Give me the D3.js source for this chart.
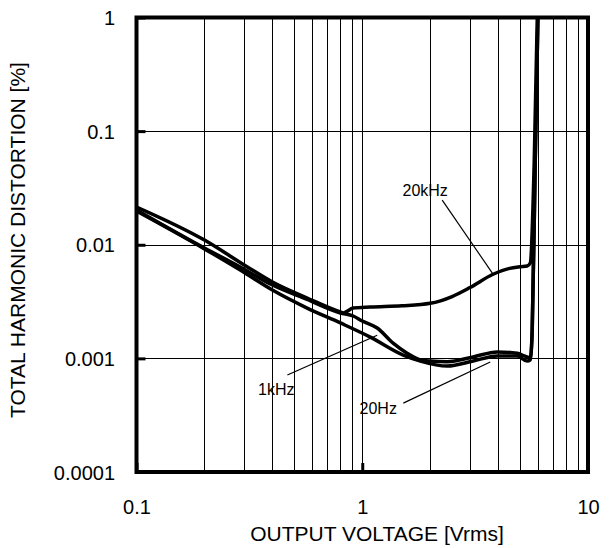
<!DOCTYPE html>
<html>
<head>
<meta charset="utf-8">
<script src="https://cdn.jsdelivr.net/npm/d3@7"></script>
<style>
  body { margin: 0; background: #fff; }
  text { font-family: "Liberation Sans", Arial, sans-serif; fill: #000; }
</style>
</head>
<body>
<div id="chart"></div>
<script>

// output voltage [Vrms] and THD [%]
var volt20k = [0.1, 0.2, 0.31, 0.4, 0.57, 0.8, 0.824, 0.912, 1.085, 1.5, 2.0, 2.5, 3.0, 3.8, 4.5, 5.01, 5.38, 5.55, 5.78, 5.96];
var thd20k  = [0.0215, 0.011, 0.00637, 0.0047, 0.0034, 0.00256, 0.00251, 0.00277, 0.00283, 0.0029, 0.00305, 0.0035, 0.0042, 0.0055, 0.0062, 0.0064, 0.0065, 0.0069, 0.0557, 1];

var volt20 = [0.1, 0.2, 0.288, 0.4, 0.57, 0.8, 0.912, 1.0, 1.165, 1.37, 1.58, 1.81, 2.0, 2.38, 3.1, 3.96, 4.86, 5.22, 5.55, 5.66, 5.84, 6.0];
var thd20  = [0.0202, 0.00935, 0.00637, 0.00442, 0.0033, 0.00251, 0.00236, 0.00213, 0.00185, 0.00136, 0.00111, 0.00097, 0.000947, 0.000935, 0.00103, 0.00114, 0.00111, 0.00105, 0.00101, 0.00177, 0.0557, 1];

var volt1k = [0.1, 0.2, 0.288, 0.4, 0.57, 0.8, 1.085, 1.52, 1.81, 2.38, 3.1, 3.96, 4.86, 5.38, 5.55, 5.66, 5.84, 6.0];
var thd1k  = [0.0198, 0.0092, 0.00599, 0.00399, 0.00277, 0.00205, 0.00154, 0.00107, 0.000947, 0.000855, 0.000947, 0.00105, 0.00105, 0.000947, 0.00097, 0.00177, 0.0557, 1];

var xTicks = [0.1, 1, 10];
var yTicks = [0.0001, 0.001, 0.01, 0.1, 1];

// label text, label anchor, leader start, leader end (data units)
var labelNames = ["20kHz", "1kHz", "20Hz"];
var labelAt    = [[1.90, 0.0303], [0.416, 0.000537], [1.177, 0.000365]];
var leaderFrom = [[2.26, 0.0247], [0.466, 0.000713], [1.52, 0.000404]];
var leaderTo   = [[3.77, 0.00563], [1.165, 0.0016], [3.69, 0.000928]];

var width = 609, height = 548;
var plotL = 136.5, plotR = 588, plotT = 17.5, plotB = 472;

var svg = d3.select("#chart").append("svg")
    .attr("width", width)
    .attr("height", height);

var x = d3.scaleLog().domain([0.1, 10]).range([plotL, plotR]);
var y = d3.scaleLog().domain([0.0001, 1]).range([plotB, plotT]);

// minor vertical grid, 2..9 in every decade plus 1
var vGrid = [];
[0.1, 1].forEach(function (d) {
    for (var k = 1; k < 10; k++) vGrid.push(d * k);
});
vGrid = vGrid.filter(function (v) { return v > 0.1; });

svg.append("g").selectAll("line")
    .data(vGrid)
    .enter().append("line")
    .attr("x1", function (d) { return Math.round(x(d)) + 0.5; })
    .attr("x2", function (d) { return Math.round(x(d)) + 0.5; })
    .attr("y1", plotT)
    .attr("y2", plotB)
    .attr("stroke", "#000")
    .attr("stroke-width", 1);

svg.append("g").selectAll("line")
    .data([0.001, 0.01, 0.1])
    .enter().append("line")
    .attr("x1", plotL)
    .attr("x2", plotR)
    .attr("y1", function (d) { return Math.round(y(d)) + 0.5; })
    .attr("y2", function (d) { return Math.round(y(d)) + 0.5; })
    .attr("stroke", "#000")
    .attr("stroke-width", 1);

// axes: short thick ticks pointing inside
var xAxis = d3.axisBottom(x).tickValues(xTicks).tickSize(-9).tickFormat(d3.format("~g"));
var yAxis = d3.axisLeft(y).tickValues(yTicks).tickSize(-9).tickFormat(d3.format("~g"));

var gx = svg.append("g").attr("transform", "translate(0," + plotB + ")").call(xAxis);
var gy = svg.append("g").attr("transform", "translate(" + plotL + ",0)").call(yAxis);

[gx, gy].forEach(function (g) {
    g.select(".domain").remove();
    g.selectAll(".tick line").attr("stroke", "#000").attr("stroke-width", 3);
    g.selectAll(".tick text")
        .style("font-family", "Liberation Sans, Arial, sans-serif")
        .style("font-size", "20px")
        .attr("fill", "#000");
});
gx.selectAll(".tick text").attr("y", 0).attr("dy", "42px");
gy.selectAll(".tick text").attr("x", -21.5).attr("dy", "0.35em");

// curves
var line = d3.line()
    .x(function (d) { return x(d[0]); })
    .y(function (d) { return y(d[1]); })
    .curve(d3.curveMonotoneX);

svg.append("clipPath").attr("id", "plotClip")
    .append("rect")
    .attr("x", plotL).attr("y", plotT)
    .attr("width", plotR - plotL).attr("height", plotB - plotT);

var series = [[volt20k, thd20k], [volt20, thd20], [volt1k, thd1k]];
svg.append("g").attr("clip-path", "url(#plotClip)")
    .selectAll("path")
    .data(series)
    .enter().append("path")
    .attr("d", function (s) { return line(d3.zip(s[0], s[1])); })
    .attr("fill", "none")
    .attr("stroke", "#000")
    .attr("stroke-width", 3.5)
    .attr("stroke-linejoin", "round");

// leaders and labels
svg.append("g").selectAll("line")
    .data(d3.range(labelNames.length))
    .enter().append("line")
    .attr("x1", function (i) { return x(leaderFrom[i][0]); })
    .attr("y1", function (i) { return y(leaderFrom[i][1]); })
    .attr("x2", function (i) { return x(leaderTo[i][0]); })
    .attr("y2", function (i) { return y(leaderTo[i][1]); })
    .attr("stroke", "#000")
    .attr("stroke-width", 1.2);

svg.append("g").selectAll("text")
    .data(d3.range(labelNames.length))
    .enter().append("text")
    .attr("x", function (i) { return x(labelAt[i][0]); })
    .attr("y", function (i) { return y(labelAt[i][1]); })
    .attr("dy", "0.35em")
    .attr("text-anchor", "middle")
    .style("font-size", "16px")
    .text(function (i) { return labelNames[i]; });

// frame
svg.append("rect")
    .attr("x", plotL).attr("y", plotT)
    .attr("width", plotR - plotL).attr("height", plotB - plotT)
    .attr("fill", "none")
    .attr("stroke", "#000")
    .attr("stroke-width", 4);

// axis titles
svg.append("text")
    .attr("x", 377)
    .attr("y", 541)
    .attr("text-anchor", "middle")
    .style("font-size", "21px")
    .text("OUTPUT VOLTAGE [Vrms]");

svg.append("text")
    .attr("transform", "translate(25,240) rotate(-90)")
    .attr("text-anchor", "middle")
    .style("font-size", "21px")
    .text("TOTAL HARMONIC DISTORTION [%]");

</script>
</body>
</html>
